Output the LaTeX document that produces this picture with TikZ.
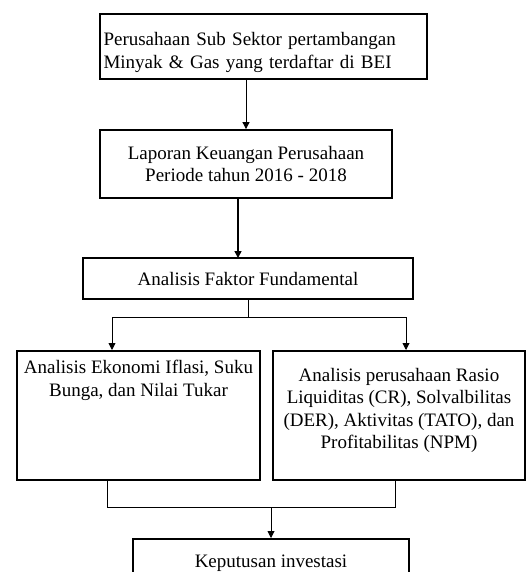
\documentclass[tikz,border=0pt]{standalone}
\usepackage{fontspec}
\setmainfont{Liberation Serif}
\usetikzlibrary{arrows.meta}
\tikzset{
  box/.style={draw, line width=1.8pt, inner sep=3pt, font=\fontsize{19}{22.5}\selectfont},
  link/.style={line width=0.9pt},
  arrow/.style={link, -{Triangle[width=7pt,length=7pt]}}
}
\begin{document}
\begin{tikzpicture}[x=1pt,y=1pt]
  \useasboundingbox (0,0) rectangle (530,-572);
  \clip (0,0) rectangle (530,-572);
  \draw
    (263.5,-13) node[box, anchor=north, minimum width=327pt, minimum height=65pt, align=left, text width=320pt, text depth=14pt] (source) {Perusahaan Sub Sektor pertambangan\\Minyak \& Gas yang terdaftar di BEI}
    (246,-164) node[box, minimum width=292pt, minimum height=68pt, align=center] (report) {Laporan Keuangan Perusahaan\\Periode tahun 2016 - 2018}
    (248,-278.5) node[box, minimum width=330pt, minimum height=41pt] (fund) {Analisis Faktor Fundamental}
    (138.5,-350) node[box, anchor=north, minimum width=243pt, minimum height=129pt, align=center, text depth=74pt] (econ) {Analisis Ekonomi Iflasi, Suku\\Bunga, dan Nilai Tukar}
    (399,-350) node[box, anchor=north, minimum width=252pt, minimum height=129pt, align=center, text depth=14pt] (firm) {Analisis perusahaan Rasio\\Liquiditas (CR), Solvalbilitas\\(DER), Aktivitas (TATO), dan\\Profitabilitas (NPM)}
    (271,-538) node[box, anchor=north, minimum width=276pt, minimum height=70pt, text height=26pt, text depth=40pt] (decision) {Keputusan investasi};
  \coordinate (splitL) at (112,-317);
  \coordinate (splitR) at (406,-317);
  \coordinate (joinL) at (107,-507);
  \coordinate (joinR) at (395,-507);
  \begin{scope}[link]
    \draw[arrow] (report.north |- source.south) -- (report.north);
    \draw[arrow, line width=1.6pt] (238,-198) -- (238,-258);
    \draw (fund.south) -- (fund.south |- splitL);
    \draw (splitL) -- (splitR);
    \draw[arrow] (splitL) -- (splitL |- econ.north);
    \draw[arrow] (splitR) -- (splitR |- firm.north);
    \draw (joinL |- econ.south) -- (joinL) -- (joinR) -- (joinR |- firm.south);
    \draw[arrow] (decision.north |- joinL) -- (decision.north);
  \end{scope}
\end{tikzpicture}
\end{document}
